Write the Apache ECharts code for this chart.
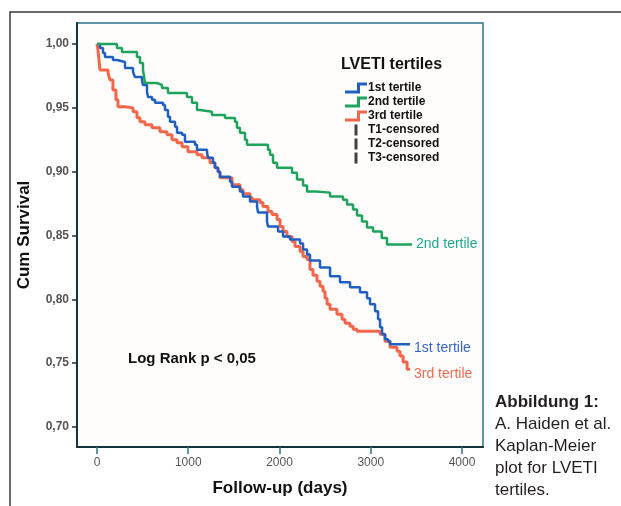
<!DOCTYPE html>
<html>
<head>
<meta charset="utf-8">
<script src="https://cdn.jsdelivr.net/npm/echarts@6/dist/echarts.min.js"></script>
<style>
    html, body { margin: 0; padding: 0; background: #fff; }
    #main { width: 621px; height: 506px; }
</style>
</head>
<body>
<div id="main"></div>
<script>
// Kaplan-Meier Stufen: [Tage, kumulatives Überleben]
const tertile1 = [
    [0, 1.0], [33, 0.9969], [66, 0.993], [88, 0.9898], [175, 0.9875], [219, 0.986],
    [307, 0.9813], [395, 0.9781], [416, 0.9742], [493, 0.9719], [504, 0.968], [548, 0.9625],
    [559, 0.9586], [603, 0.9563], [636, 0.954], [723, 0.9523], [745, 0.9484], [778, 0.943],
    [800, 0.9391], [855, 0.9352], [877, 0.9305], [932, 0.9289], [964, 0.9234], [1074, 0.9211],
    [1096, 0.9172], [1206, 0.9148], [1217, 0.9109], [1271, 0.907], [1293, 0.9031], [1326, 0.9],
    [1348, 0.8961], [1458, 0.8922], [1480, 0.8883], [1567, 0.8844], [1600, 0.8805], [1677, 0.8766],
    [1754, 0.8727], [1765, 0.868], [1863, 0.8609], [1874, 0.857], [1984, 0.8531], [2039, 0.8492],
    [2115, 0.8469], [2225, 0.8438], [2258, 0.8391], [2302, 0.8352], [2334, 0.8305], [2444, 0.825],
    [2554, 0.818], [2663, 0.8133], [2773, 0.8094], [2882, 0.8055], [2959, 0.8008], [2992, 0.7961],
    [3047, 0.7906], [3080, 0.7844], [3102, 0.7781], [3124, 0.7727], [3156, 0.7688], [3189, 0.7672],
    [3211, 0.7648], [3430, 0.7648]
];
const tertile2 = [
    [0, 1.0], [219, 0.9969], [274, 0.9938], [438, 0.9898], [471, 0.9852], [504, 0.9797],
    [515, 0.975], [526, 0.9695], [658, 0.968], [712, 0.9656], [778, 0.9617], [986, 0.9586],
    [1041, 0.954], [1096, 0.9484], [1129, 0.9469], [1260, 0.9445], [1403, 0.942], [1512, 0.9391],
    [1534, 0.9344], [1567, 0.9305], [1622, 0.925], [1644, 0.9211], [1874, 0.9172], [1896, 0.9133],
    [1929, 0.907], [1973, 0.9031], [2137, 0.8992], [2192, 0.8938], [2258, 0.8891], [2302, 0.8844],
    [2400, 0.8836], [2554, 0.8805], [2696, 0.8781], [2740, 0.8742], [2806, 0.8703], [2850, 0.8656],
    [2904, 0.8609], [2959, 0.8563], [3025, 0.8531], [3120, 0.848], [3178, 0.843], [3452, 0.843]
];
const tertile3 = [
    [0, 1.0], [11, 0.9953], [22, 0.9875], [33, 0.9797], [121, 0.9773], [142, 0.9719],
    [175, 0.964], [208, 0.9563], [230, 0.9508], [307, 0.95], [395, 0.9469], [438, 0.9422],
    [471, 0.9391], [526, 0.9367], [603, 0.9344], [690, 0.9313], [767, 0.9289], [822, 0.925],
    [877, 0.9227], [932, 0.9195], [997, 0.9156], [1096, 0.9133], [1151, 0.9109], [1238, 0.907],
    [1293, 0.9031], [1326, 0.9], [1348, 0.8953], [1480, 0.8898], [1567, 0.8859], [1600, 0.8828],
    [1677, 0.8797], [1699, 0.8781], [1786, 0.8758], [1819, 0.8727], [1874, 0.8688], [1918, 0.8664],
    [1973, 0.8625], [2006, 0.857], [2039, 0.8531], [2082, 0.8492], [2137, 0.8453], [2170, 0.8414],
    [2225, 0.8375], [2258, 0.8336], [2302, 0.8313], [2334, 0.8234], [2367, 0.8188], [2411, 0.8141],
    [2444, 0.8102], [2477, 0.8063], [2499, 0.8008], [2521, 0.7961], [2554, 0.7922], [2630, 0.7883],
    [2685, 0.7844], [2718, 0.7813], [2773, 0.7789], [2806, 0.7766], [2850, 0.775], [3102, 0.7727],
    [3156, 0.7672], [3211, 0.7625], [3288, 0.7594], [3321, 0.7555], [3354, 0.7508], [3398, 0.7453],
    [3430, 0.7453]
];

const seriesNames = ['1st tertile', '2nd tertile', '3rd tertile'];
const censoredNames = ['T1-censored', 'T2-censored', 'T3-censored'];
const xTicks = [0, 1000, 2000, 3000, 4000];
const yTicks = [0.70, 0.75, 0.80, 0.85, 0.90, 0.95, 1.00];
const captionLines = ['A. Haiden et al.', 'Kaplan-Meier', 'plot for LVETI', 'tertiles.'];

const colors = ['#1f5fc4', '#1ea35c', '#f2674a'];
const labelColors = ['#3563cc', '#1fa88a', '#f26b50'];
const stepIcon = 'path://M0,8 L12,8 L12,0 L22,0 L22,3 L15,3 L15,11 L0,11 Z';
const barIcon = 'path://M0,0 L3,0 L3,11 L0,11 Z';
const sans = '"Liberation Sans", Arial, sans-serif';

const chart = echarts.init(document.getElementById('main'));

const curveSeries = [tertile1, tertile2, tertile3].map((d, i) => ({
    name: seriesNames[i],
    type: 'line',
    step: 'end',
    data: d,
    showSymbol: false,
    z: i === 2 ? 2 : 3,
    lineStyle: { width: i === 2 ? 3 : 2.5, color: colors[i] },
    itemStyle: { color: colors[i] },
    endLabel: {
        show: true,
        formatter: '{a}',
        color: labelColors[i],
        fontFamily: sans,
        fontSize: 14,
        distance: 4,
        offset: [0, i === 0 ? 4 : (i === 2 ? 5 : 0)]
    }
}));

const censoredSeries = censoredNames.map(n => ({
    name: n,
    type: 'scatter',
    data: [],
    itemStyle: { color: '#111' }
}));

chart.setOption({
    animation: false,
    backgroundColor: '#fff',
    title: {
        text: 'LVETI tertiles',
        left: 336,
        top: 52,
        textStyle: { fontFamily: sans, fontWeight: 'bold', fontSize: 16, color: '#111' }
    },
    legend: {
        left: 340,
        top: 77,
        orient: 'vertical',
        itemWidth: 22,
        itemHeight: 11,
        itemGap: 2,
        selectedMode: false,
        data: [
            ...seriesNames.map(n => ({ name: n, icon: stepIcon })),
            ...censoredNames.map(n => ({ name: n, icon: barIcon }))
        ],
        textStyle: { fontFamily: sans, fontWeight: 'bold', fontSize: 12, color: '#111', padding: [0, 0, 0, -4] }
    },
    grid: {
        left: 77,
        top: 23,
        width: 406,
        height: 424,
        show: true,
        backgroundColor: '#fffdfc',
        borderColor: '#2b7486',
        borderWidth: 1.5
    },
    xAxis: {
        type: 'value',
        min: -219,
        max: 4230,
        name: 'Follow-up (days)',
        nameLocation: 'middle',
        nameGap: 33,
        nameTextStyle: { fontFamily: sans, fontWeight: 'bold', fontSize: 17, color: '#111' },
        axisLine: { show: true, onZero: false, lineStyle: { color: '#14343c', width: 2 } },
        axisTick: { show: true, customValues: xTicks, length: 7, lineStyle: { color: '#2b7486', width: 1.5 } },
        axisLabel: {
            customValues: xTicks,
            margin: 10,
            fontFamily: sans,
            fontSize: 12,
            color: '#555',
            formatter: v => String(v)
        },
        splitLine: { show: false }
    },
    yAxis: {
        type: 'value',
        min: 0.6843,
        max: 1.0165,
        name: 'Cum Survival',
        nameLocation: 'middle',
        nameRotate: 90,
        nameGap: 44,
        nameTextStyle: { fontFamily: sans, fontWeight: 'bold', fontSize: 17, color: '#111' },
        axisLine: { show: true, onZero: false, lineStyle: { color: '#14343c', width: 2 } },
        axisTick: { show: true, customValues: yTicks, length: 5, lineStyle: { color: '#14343c', width: 1.5 } },
        axisLabel: {
            customValues: yTicks,
            margin: 8,
            fontFamily: sans,
            fontWeight: 'bold',
            fontSize: 12,
            color: '#555',
            formatter: v => v.toFixed(2).replace('.', ',')
        },
        splitLine: { show: false }
    },
    graphic: [
        {
            type: 'polyline',
            shape: { points: [[10, 506], [10, 12], [621, 12]] },
            style: { stroke: '#3a3a3a', lineWidth: 1.5, fill: null },
            silent: true
        },
        {
            type: 'text',
            left: 128,
            top: 351,
            style: { text: 'Log Rank p < 0,05', fontFamily: sans, fontWeight: 'bold', fontSize: 15, fill: '#111' }
        },
        {
            type: 'text',
            left: 495,
            top: 394,
            style: { text: 'Abbildung 1:', fontFamily: sans, fontWeight: 'bold', fontSize: 17, fill: '#231f20' }
        },
        ...captionLines.map((t, i) => ({
            type: 'text',
            left: 495,
            top: 416 + i * 21.8,
            style: { text: t, fontFamily: sans, fontSize: 17, fill: '#231f20' }
        }))
    ],
    series: [...curveSeries, ...censoredSeries]
});

window.addEventListener('resize', () => chart.resize());
</script>
</body>
</html>
